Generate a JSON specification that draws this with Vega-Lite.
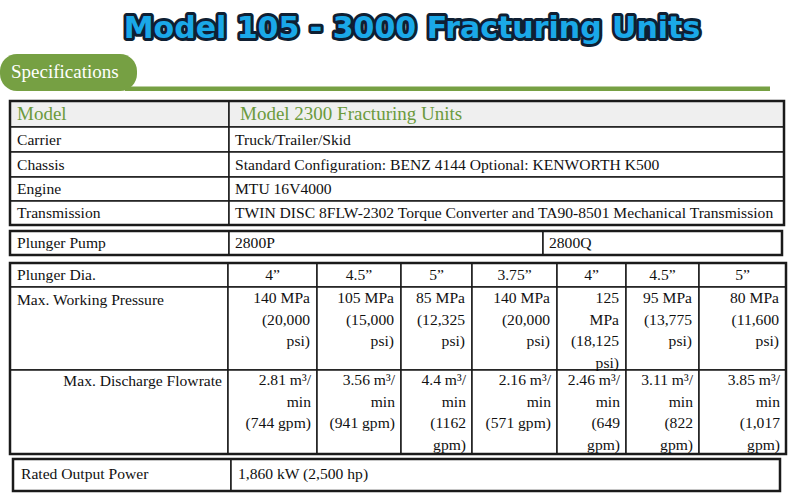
{
  "$schema": "https://vega.github.io/schema/vega-lite/v6.json",
  "width": 800,
  "height": 500,
  "autosize": {"type": "fit", "contains": "padding"},
  "padding": 0,
  "background": "white",
  "view": {"stroke": null},
  "config": {"axis": {"disable": true}, "text": {"font": "Liberation Serif", "fontSize": 15.6, "baseline": "middle", "lineHeight": 21.5, "color": "#111"}},
  "datasets": {
    "banner": [
      {"part": "pill", "x0": 0, "x1": 137, "y0": 54, "y1": 91},
      {"part": "rule", "x0": 125, "x1": 770, "y0": 86.5, "y1": 91}
    ],
    "cells": [
      {"role": "head", "x0": 10, "x1": 229, "y0": 101, "y1": 127},
      {"role": "head", "x0": 229, "x1": 784, "y0": 101, "y1": 127},
      {"role": "body", "x0": 10, "x1": 229, "y0": 127, "y1": 152},
      {"role": "body", "x0": 229, "x1": 784, "y0": 127, "y1": 152},
      {"role": "body", "x0": 10, "x1": 229, "y0": 152, "y1": 177},
      {"role": "body", "x0": 229, "x1": 784, "y0": 152, "y1": 177},
      {"role": "body", "x0": 10, "x1": 229, "y0": 177, "y1": 201},
      {"role": "body", "x0": 229, "x1": 784, "y0": 177, "y1": 201},
      {"role": "body", "x0": 10, "x1": 229, "y0": 201, "y1": 225},
      {"role": "body", "x0": 229, "x1": 784, "y0": 201, "y1": 225},
      {"role": "body", "x0": 10, "x1": 229, "y0": 231, "y1": 255},
      {"role": "body", "x0": 229, "x1": 543, "y0": 231, "y1": 255},
      {"role": "body", "x0": 543, "x1": 782, "y0": 231, "y1": 255},
      {"role": "body", "x0": 10, "x1": 228, "y0": 263, "y1": 287},
      {"role": "body", "x0": 228, "x1": 317, "y0": 263, "y1": 287},
      {"role": "body", "x0": 317, "x1": 401, "y0": 263, "y1": 287},
      {"role": "body", "x0": 401, "x1": 472, "y0": 263, "y1": 287},
      {"role": "body", "x0": 472, "x1": 557, "y0": 263, "y1": 287},
      {"role": "body", "x0": 557, "x1": 626, "y0": 263, "y1": 287},
      {"role": "body", "x0": 626, "x1": 699, "y0": 263, "y1": 287},
      {"role": "body", "x0": 699, "x1": 786, "y0": 263, "y1": 287},
      {"role": "body", "x0": 10, "x1": 228, "y0": 287, "y1": 370},
      {"role": "body", "x0": 228, "x1": 317, "y0": 287, "y1": 370},
      {"role": "body", "x0": 317, "x1": 401, "y0": 287, "y1": 370},
      {"role": "body", "x0": 401, "x1": 472, "y0": 287, "y1": 370},
      {"role": "body", "x0": 472, "x1": 557, "y0": 287, "y1": 370},
      {"role": "body", "x0": 557, "x1": 626, "y0": 287, "y1": 370},
      {"role": "body", "x0": 626, "x1": 699, "y0": 287, "y1": 370},
      {"role": "body", "x0": 699, "x1": 786, "y0": 287, "y1": 370},
      {"role": "body", "x0": 10, "x1": 228, "y0": 370, "y1": 454},
      {"role": "body", "x0": 228, "x1": 317, "y0": 370, "y1": 454},
      {"role": "body", "x0": 317, "x1": 401, "y0": 370, "y1": 454},
      {"role": "body", "x0": 401, "x1": 472, "y0": 370, "y1": 454},
      {"role": "body", "x0": 472, "x1": 557, "y0": 370, "y1": 454},
      {"role": "body", "x0": 557, "x1": 626, "y0": 370, "y1": 454},
      {"role": "body", "x0": 626, "x1": 699, "y0": 370, "y1": 454},
      {"role": "body", "x0": 699, "x1": 786, "y0": 370, "y1": 454},
      {"role": "body", "x0": 13, "x1": 231, "y0": 459, "y1": 491},
      {"role": "body", "x0": 231, "x1": 780, "y0": 459, "y1": 491}
    ],
    "frames": [
      {"x0": 10, "x1": 784, "y0": 101, "y1": 225},
      {"x0": 10, "x1": 782, "y0": 231, "y1": 255},
      {"x0": 10, "x1": 786, "y0": 263, "y1": 454},
      {"x0": 13, "x1": 780, "y0": 459, "y1": 491}
    ],
    "texts": [
      {"kind": "head", "x": 17, "y": 114, "t": "Model"},
      {"kind": "head", "x": 240, "y": 114, "t": "Model 2300 Fracturing Units"},
      {"kind": "left", "x": 17, "y": 140, "t": "Carrier"},
      {"kind": "left", "x": 235, "y": 140, "t": "Truck/Trailer/Skid"},
      {"kind": "left", "x": 17, "y": 164.5, "t": "Chassis"},
      {"kind": "left", "x": 235, "y": 164.5, "t": "Standard Configuration: BENZ 4144 Optional: KENWORTH K500"},
      {"kind": "left", "x": 17, "y": 189, "t": "Engine"},
      {"kind": "left", "x": 235, "y": 189, "t": "MTU 16V4000"},
      {"kind": "left", "x": 17, "y": 213, "t": "Transmission"},
      {"kind": "left", "x": 235, "y": 213, "t": "TWIN DISC 8FLW-2302 Torque Converter and TA90-8501 Mechanical Transmission"},
      {"kind": "left", "x": 17, "y": 243, "t": "Plunger Pump"},
      {"kind": "left", "x": 235, "y": 243, "t": "2800P"},
      {"kind": "left", "x": 549, "y": 243, "t": "2800Q"},
      {"kind": "left", "x": 17, "y": 275, "t": "Plunger Dia."},
      {"kind": "center", "x": 272.5, "y": 275, "t": "4”"},
      {"kind": "center", "x": 359, "y": 275, "t": "4.5”"},
      {"kind": "center", "x": 436.5, "y": 275, "t": "5”"},
      {"kind": "center", "x": 514.5, "y": 275, "t": "3.75”"},
      {"kind": "center", "x": 591.5, "y": 275, "t": "4”"},
      {"kind": "center", "x": 662.5, "y": 275, "t": "4.5”"},
      {"kind": "center", "x": 742.5, "y": 275, "t": "5”"},
      {"kind": "left", "x": 17, "y": 300, "t": "Max. Working Pressure"},
      {"kind": "right", "x": 310, "y": 300, "t": ["140 MPa", "(20,000", "psi)"]},
      {"kind": "right", "x": 394, "y": 300, "t": ["105 MPa", "(15,000", "psi)"]},
      {"kind": "right", "x": 465, "y": 300, "t": ["85 MPa", "(12,325", "psi)"]},
      {"kind": "right", "x": 550, "y": 300, "t": ["140 MPa", "(20,000", "psi)"]},
      {"kind": "right", "x": 619, "y": 300, "t": ["125", "MPa", "(18,125", "psi)"]},
      {"kind": "right", "x": 692, "y": 300, "t": ["95 MPa", "(13,775", "psi)"]},
      {"kind": "right", "x": 779, "y": 300, "t": ["80 MPa", "(11,600", "psi)"]},
      {"kind": "right", "x": 222, "y": 383, "t": "Max. Discharge Flowrate"},
      {"kind": "right", "x": 311, "y": 382, "t": ["2.81 m³/", "min", "(744 gpm)"]},
      {"kind": "right", "x": 395, "y": 382, "t": ["3.56 m³/", "min", "(941 gpm)"]},
      {"kind": "right", "x": 466, "y": 382, "t": ["4.4 m³/", "min", "(1162", "gpm)"]},
      {"kind": "right", "x": 551, "y": 382, "t": ["2.16 m³/", "min", "(571 gpm)"]},
      {"kind": "right", "x": 620, "y": 382, "t": ["2.46 m³/", "min", "(649", "gpm)"]},
      {"kind": "right", "x": 693, "y": 382, "t": ["3.11 m³/", "min", "(822", "gpm)"]},
      {"kind": "right", "x": 780, "y": 382, "t": ["3.85 m³/", "min", "(1,017", "gpm)"]},
      {"kind": "left", "x": 21, "y": 474, "t": "Rated Output Power"},
      {"kind": "left", "x": 238, "y": 474, "t": "1,860 kW (2,500 hp)"}
    ],
    "labels": [
      {"kind": "title", "x": 412, "y": 29, "t": "Model 105 - 3000 Fracturing Units"},
      {"kind": "tab", "x": 11, "y": 72, "t": "Specifications"}
    ]
  },
  "layer": [
    {
      "data": {"name": "banner"},
      "transform": [{"filter": "datum.part === 'pill'"}],
      "mark": {"type": "rect", "fill": "#76a043", "cornerRadius": 17},
      "encoding": {
        "x": {"field": "x0", "type": "quantitative", "scale": {"domain": [0, 800], "nice": false, "zero": false}},
        "x2": {"field": "x1"},
        "y": {"field": "y0", "type": "quantitative", "scale": {"domain": [0, 500], "nice": false, "zero": false, "reverse": true}},
        "y2": {"field": "y1"}
      }
    },
    {
      "data": {"name": "banner"},
      "transform": [{"filter": "datum.part === 'rule'"}],
      "mark": {"type": "rect", "fill": "#76a043"},
      "encoding": {
        "x": {"field": "x0", "type": "quantitative", "scale": {"domain": [0, 800], "nice": false, "zero": false}},
        "x2": {"field": "x1"},
        "y": {"field": "y0", "type": "quantitative", "scale": {"domain": [0, 500], "nice": false, "zero": false, "reverse": true}},
        "y2": {"field": "y1"}
      }
    },
    {
      "data": {"name": "cells"},
      "mark": {"type": "rect", "stroke": "#1a1a1a", "strokeWidth": 1.5},
      "encoding": {
        "x": {"field": "x0", "type": "quantitative", "scale": {"domain": [0, 800], "nice": false, "zero": false}},
        "x2": {"field": "x1"},
        "y": {"field": "y0", "type": "quantitative", "scale": {"domain": [0, 500], "nice": false, "zero": false, "reverse": true}},
        "y2": {"field": "y1"},
        "fill": {"condition": {"test": "datum.role === 'head'", "value": "#efefef"}, "value": "white"}
      }
    },
    {
      "data": {"name": "frames"},
      "mark": {"type": "rect", "fill": null, "fillOpacity": 0, "stroke": "#1a1a1a", "strokeWidth": 2.5},
      "encoding": {
        "x": {"field": "x0", "type": "quantitative", "scale": {"domain": [0, 800], "nice": false, "zero": false}},
        "x2": {"field": "x1"},
        "y": {"field": "y0", "type": "quantitative", "scale": {"domain": [0, 500], "nice": false, "zero": false, "reverse": true}},
        "y2": {"field": "y1"}
      }
    },
    {
      "data": {"name": "texts"},
      "transform": [{"filter": "datum.kind === 'head'"}],
      "mark": {"type": "text", "align": "left", "fontSize": 19, "color": "#6b9a3c"},
      "encoding": {
        "x": {"field": "x", "type": "quantitative", "scale": {"domain": [0, 800], "nice": false, "zero": false}},
        "y": {"field": "y", "type": "quantitative", "scale": {"domain": [0, 500], "nice": false, "zero": false, "reverse": true}},
        "text": {"field": "t"}
      }
    },
    {
      "data": {"name": "texts"},
      "transform": [{"filter": "datum.kind === 'left'"}],
      "mark": {"type": "text", "align": "left"},
      "encoding": {
        "x": {"field": "x", "type": "quantitative", "scale": {"domain": [0, 800], "nice": false, "zero": false}},
        "y": {"field": "y", "type": "quantitative", "scale": {"domain": [0, 500], "nice": false, "zero": false, "reverse": true}},
        "text": {"field": "t"}
      }
    },
    {
      "data": {"name": "texts"},
      "transform": [{"filter": "datum.kind === 'center'"}],
      "mark": {"type": "text", "align": "center"},
      "encoding": {
        "x": {"field": "x", "type": "quantitative", "scale": {"domain": [0, 800], "nice": false, "zero": false}},
        "y": {"field": "y", "type": "quantitative", "scale": {"domain": [0, 500], "nice": false, "zero": false, "reverse": true}},
        "text": {"field": "t"}
      }
    },
    {
      "data": {"name": "texts"},
      "transform": [{"filter": "datum.kind === 'right'"}],
      "mark": {"type": "text", "align": "right", "baseline": "top", "dy": -9},
      "encoding": {
        "x": {"field": "x", "type": "quantitative", "scale": {"domain": [0, 800], "nice": false, "zero": false}},
        "y": {"field": "y", "type": "quantitative", "scale": {"domain": [0, 500], "nice": false, "zero": false, "reverse": true}},
        "text": {"field": "t"}
      }
    },
    {
      "data": {"name": "labels"},
      "transform": [{"filter": "datum.kind === 'title'"}],
      "mark": {"type": "text", "align": "center", "font": "DejaVu Sans", "fontWeight": "bold", "fontSize": 30, "color": "#0f1f33", "stroke": "#0f1f33", "strokeWidth": 6, "strokeJoin": "round"},
      "encoding": {
        "x": {"field": "x", "type": "quantitative", "scale": {"domain": [0, 800], "nice": false, "zero": false}},
        "y": {"field": "y", "type": "quantitative", "scale": {"domain": [0, 500], "nice": false, "zero": false, "reverse": true}},
        "text": {"field": "t"}
      }
    },
    {
      "data": {"name": "labels"},
      "transform": [{"filter": "datum.kind === 'title'"}],
      "mark": {"type": "text", "align": "center", "font": "DejaVu Sans", "fontWeight": "bold", "fontSize": 30, "color": "#1aa8e8"},
      "encoding": {
        "x": {"field": "x", "type": "quantitative", "scale": {"domain": [0, 800], "nice": false, "zero": false}},
        "y": {"field": "y", "type": "quantitative", "scale": {"domain": [0, 500], "nice": false, "zero": false, "reverse": true}},
        "text": {"field": "t"}
      }
    },
    {
      "data": {"name": "labels"},
      "transform": [{"filter": "datum.kind === 'tab'"}],
      "mark": {"type": "text", "align": "left", "fontSize": 19, "color": "white"},
      "encoding": {
        "x": {"field": "x", "type": "quantitative", "scale": {"domain": [0, 800], "nice": false, "zero": false}},
        "y": {"field": "y", "type": "quantitative", "scale": {"domain": [0, 500], "nice": false, "zero": false, "reverse": true}},
        "text": {"field": "t"}
      }
    }
  ]
}
